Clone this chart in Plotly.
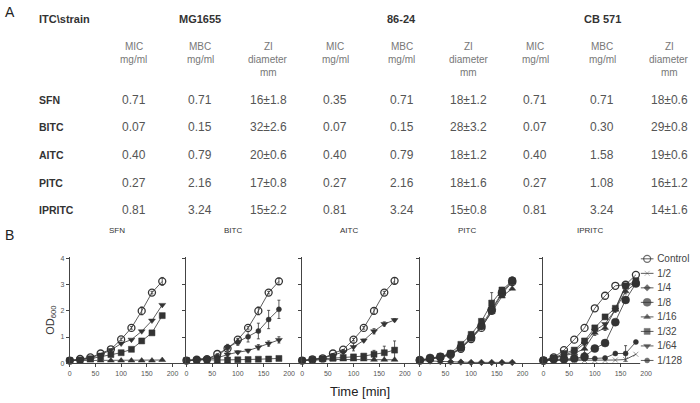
import plotly.graph_objects as go

W, H = 700, 403
FONT = "Liberation Sans, Arial, sans-serif"

# ---- table data (panel A) ----
strains = ["MG1655", "86-24", "CB 571"]
col_header_lines = [["MIC", "mg/ml"], ["MBC", "mg/ml"], ["ZI", "diameter", "mm"]]
compounds = ["SFN", "BITC", "AITC", "PITC", "IPRITC"]
mic_mg1655 = ["0.71", "0.07", "0.40", "0.27", "0.81"]
mbc_mg1655 = ["0.71", "0.15", "0.79", "2.16", "3.24"]
zi_mg1655 = ["16±1.8", "32±2.6", "20±0.6", "17±0.8", "15±2.2"]
mic_8624 = ["0.35", "0.07", "0.40", "0.27", "0.81"]
mbc_8624 = ["0.71", "0.15", "0.79", "2.16", "3.24"]
zi_8624 = ["18±1.2", "28±3.2", "18±1.2", "18±1.6", "15±0.8"]
mic_cb571 = ["0.71", "0.07", "0.40", "0.27", "0.81"]
mbc_cb571 = ["0.71", "0.30", "1.58", "1.08", "3.24"]
zi_cb571 = ["18±0.6", "29±0.8", "19±0.6", "16±1.2", "14±1.6"]

# ---- growth curves (panel B) ----
time_min = [0, 20, 40, 60, 80, 100, 120, 140, 160, 180]
dilutions = ["Control", "1/2", "1/4", "1/8", "1/16", "1/32", "1/64", "1/128"]

sfn_control = [0.10, 0.16, 0.22, 0.37, 0.53, 0.91, 1.35, 2.00, 2.70, 3.13]
sfn_control_err = [0, 0, 0, 0, 0, 0.05, 0.05, 0.15, 0.05, 0.15]
sfn_1_64 = [0.10, 0.14, 0.20, 0.33, 0.50, 0.75, 0.90, 1.22, 1.63, 2.23]
sfn_1_32 = [0.10, 0.12, 0.17, 0.24, 0.33, 0.40, 0.53, 0.85, 1.16, 1.82]
sfn_1_16 = [0.10, 0.10, 0.10, 0.10, 0.10, 0.10, 0.10, 0.10, 0.10, 0.12]

bitc_control = [0.10, 0.13, 0.15, 0.35, 0.56, 0.90, 1.35, 2.00, 2.70, 3.13]
bitc_control_err = [0, 0, 0, 0, 0, 0.05, 0.05, 0.15, 0.05, 0.12]
bitc_1_128 = [0.10, 0.15, 0.18, 0.25, 0.60, 0.80, 1.01, 1.23, 1.67, 2.06]
bitc_1_128_err = [0, 0, 0, 0, 0.12, 0.12, 0.2, 0.3, 0.35, 0.35]
bitc_1_64 = [0.10, 0.12, 0.15, 0.20, 0.33, 0.42, 0.48, 0.61, 0.75, 0.89]
bitc_1_64_err = [0, 0, 0, 0, 0.1, 0.05, 0.05, 0.1, 0.1, 0.12]
bitc_1_32 = [0.10, 0.12, 0.13, 0.12, 0.12, 0.13, 0.14, 0.15, 0.16, 0.18]

aitc_control = [0.10, 0.14, 0.18, 0.37, 0.52, 0.90, 1.35, 2.00, 2.70, 3.15]
aitc_control_err = [0, 0, 0, 0, 0, 0.05, 0.05, 0.12, 0.05, 0.12]
aitc_1_64 = [0.10, 0.14, 0.20, 0.30, 0.43, 0.62, 0.87, 1.22, 1.50, 1.65]
aitc_1_64_err = [0, 0, 0, 0, 0.05, 0.15, 0.05, 0.1, 0.08, 0.05]
aitc_1_32 = [0.10, 0.14, 0.17, 0.19, 0.22, 0.24, 0.27, 0.34, 0.40, 0.50]
aitc_1_32_err = [0, 0, 0, 0, 0, 0, 0.05, 0.15, 0.25, 0.35]
aitc_1_16 = [0.10, 0.12, 0.13, 0.14, 0.14, 0.14, 0.14, 0.13, 0.13, 0.13]

pitc_control = [0.10, 0.17, 0.22, 0.32, 0.55, 0.92, 1.35, 2.00, 2.65, 3.10]
pitc_1_32 = [0.10, 0.18, 0.25, 0.38, 0.72, 1.10, 1.60, 2.30, 2.80, 3.15]
pitc_1_32_err = [0, 0, 0, 0, 0.05, 0.1, 0.1, 0.4, 0.1, 0.15]
pitc_1_8 = [0.12, 0.20, 0.25, 0.35, 0.60, 0.98, 1.42, 2.05, 2.70, 3.15]
pitc_1_16 = [0.10, 0.17, 0.22, 0.32, 0.58, 0.95, 1.38, 1.95, 2.55, 2.85]
pitc_1_4 = [0.10, 0.08, 0.06, 0.05, 0.04, 0.03, 0.03, 0.03, 0.03, 0.03]

ipritc_control = [0.10, 0.22, 0.50, 0.90, 1.35, 2.10, 2.58, 2.96, 3.00, 3.38]
ipritc_1_32 = [0.10, 0.20, 0.37, 0.50, 0.85, 1.35, 1.77, 2.10, 2.96, 3.15]
ipritc_1_16 = [0.10, 0.18, 0.28, 0.38, 0.55, 1.16, 1.35, 2.05, 2.75, 3.05]
ipritc_1_16_err = [0, 0, 0, 0, 0.15, 0.1, 0.1, 0.1, 0.1, 0.1]
ipritc_1_8 = [0.10, 0.15, 0.15, 0.18, 0.25, 0.56, 0.77, 1.57, 2.42, 3.05]
ipritc_1_64 = [0.10, 0.20, 0.30, 0.45, 0.75, 1.25, 1.50, 2.05, 2.95, 3.05]
ipritc_1_128 = [0.10, 0.12, 0.13, 0.15, 0.17, 0.18, 0.20, 0.37, 0.37, 0.81]
ipritc_1_128_err = [0, 0, 0, 0, 0, 0, 0, 0.05, 0.3, 0.05]
ipritc_1_2 = [0.10, 0.10, 0.10, 0.10, 0.10, 0.10, 0.10, 0.12, 0.14, 0.34]

panels = [
    ("SFN", [("Control", sfn_control, sfn_control_err), ("1/64", sfn_1_64, None),
             ("1/32", sfn_1_32, None), ("1/16", sfn_1_16, None)]),
    ("BITC", [("Control", bitc_control, bitc_control_err), ("1/128", bitc_1_128, bitc_1_128_err),
              ("1/64", bitc_1_64, bitc_1_64_err), ("1/32", bitc_1_32, None)]),
    ("AITC", [("Control", aitc_control, aitc_control_err), ("1/64", aitc_1_64, aitc_1_64_err),
              ("1/32", aitc_1_32, aitc_1_32_err), ("1/16", aitc_1_16, None)]),
    ("PITC", [("1/4", pitc_1_4, None), ("1/16", pitc_1_16, None), ("1/8", pitc_1_8, None),
              ("1/32", pitc_1_32, pitc_1_32_err), ("Control", pitc_control, None)]),
    ("IPRITC", [("1/2", ipritc_1_2, None), ("1/128", ipritc_1_128, ipritc_1_128_err),
                ("1/8", ipritc_1_8, None), ("1/16", ipritc_1_16, ipritc_1_16_err),
                ("1/64", ipritc_1_64, None), ("1/32", ipritc_1_32, None),
                ("Control", ipritc_control, None)]),
]

# marker style per dilution
symbols = {"Control": ("circle-open", 7), "1/2": ("x-thin-open", 5), "1/4": ("diamond", 5),
           "1/8": ("circle", 8), "1/16": ("triangle-up", 6), "1/32": ("square", 6),
           "1/64": ("triangle-down", 6), "1/128": ("circle", 5)}

INK = "#333333"


def px(x):
    return x / W


def py(y):
    return 1 - y / H


def marker(label, sizes=None):
    sym, size = symbols[label]
    return dict(symbol=sym, size=size if sizes is None else [0, size, 0], color=INK,
                line=dict(color=INK, width=1.3 if label == "Control" else 0.5))


fig = go.Figure()

# panel geometry (pixel origins of the x axes, 200 min ~ 103 px)
origins = [68, 185, 301, 419, 543]
ends = [185, 301, 419, 543, 652]
unit = 103 / 200
y_bottom, y_top = 365.7, 258

axis_common = dict(showline=True, linecolor="#444", linewidth=1, ticks="outside",
                   ticklen=3, tickcolor="#444", showgrid=False, zeroline=False,
                   tickfont=dict(size=7, color="#555", family=FONT))
layout = {}
for i, (name, series) in enumerate(panels):
    n = "" if i == 0 else str(i + 1)
    for label, vals, err in series:
        fig.add_trace(go.Scatter(
            x=time_min, y=vals, mode="lines+markers", name=label,
            xaxis="x" + n, yaxis="y" + n, cliponaxis=False, showlegend=False,
            line=dict(color=INK, width=0.8),
            marker=marker(label),
            error_y=dict(type="data", array=err, visible=err is not None,
                         color=INK, thickness=0.8, width=1.5),
        ))
    layout["xaxis" + n] = dict(
        domain=[px(origins[i]), px(ends[i])],
        range=[0, (ends[i] - origins[i]) / unit],
        anchor="y" + n, tickvals=[0, 50, 100, 150, 200], **axis_common)
    layout["yaxis" + n] = dict(
        domain=[py(y_bottom), py(y_top)], range=[0, 4.07],
        anchor="x" + n, tickvals=[0, 1, 2, 3, 4], showticklabels=(i == 0), **axis_common)

# key: short line with symbol per dilution, labels on a right-hand category axis
for label in dilutions:
    fig.add_trace(go.Scatter(
        x=[-1, 0, 1], y=[label] * 3, mode="lines+markers", showlegend=False,
        xaxis="x6", yaxis="y6", cliponaxis=False,
        line=dict(color=INK, width=0.8), marker=marker(label, sizes=True),
    ))
layout["xaxis6"] = dict(domain=[px(640), px(654)], range=[-1.1, 1.1], anchor="y6",
                        visible=False)
layout["yaxis6"] = dict(domain=[py(370.3), py(252.7)], anchor="x6", side="right",
                        type="category", categoryorder="array",
                        categoryarray=dilutions[::-1], range=[-0.5, 7.5],
                        showline=False, showgrid=False, zeroline=False, ticks="",
                        ticklabelstandoff=2,
                        tickfont=dict(size=10, color="#444", family=FONT))

ann = []


def text(x, y, s, size, color, bold=False, **kw):
    if bold:
        s = "<b>" + s + "</b>"
    ann.append(dict(x=px(x), y=py(y), xref="paper", yref="paper", text=s,
                    showarrow=False, font=dict(size=size, color=color, family=FONT),
                    xanchor=kw.pop("xanchor", "center"), yanchor=kw.pop("yanchor", "middle"), **kw))


# panel A
text(8, 10, "A", 14, "#222")
text(35, 17, "ITC\\strain", 11, INK, bold=True, xanchor="left")
col_x = [132, 199, 267, 334, 401, 468, 535, 602, 669]
for k, s in enumerate(strains):
    text(col_x[3 * k + 1], 17, s, 11, INK, bold=True)
for c, cx in enumerate(col_x):
    for j, line in enumerate(col_header_lines[c % 3]):
        text(cx, 45 + 13 * j, line, 10, "#777")
row_y = [99, 127, 155, 183, 211]
table_cols = [mic_mg1655, mbc_mg1655, zi_mg1655, mic_8624, mbc_8624, zi_8624,
              mic_cb571, mbc_cb571, zi_cb571]
for r, comp in enumerate(compounds):
    text(35, row_y[r], comp, 10.5, INK, bold=True, xanchor="left")
    for c, col in enumerate(table_cols):
        text(col_x[c], row_y[r], col[r], 12, "#555")

# panel B
text(8, 236, "B", 14, "#222")
for i, (name, _) in enumerate(panels):
    text(origins[i] + 47, 231, name, 8, INK)
text(49, 322, "OD<sub>600</sub>", 11, INK, textangle=-90)
text(359, 394, "Time [min]", 13, "#222")

fig.update_layout(
    width=W, height=H, margin=dict(l=0, r=0, t=0, b=0),
    paper_bgcolor="white", plot_bgcolor="white",
    font=dict(family=FONT, color=INK),
    annotations=ann, showlegend=False,
    **layout,
)

# drop the default 8px page margin so the 700x403 figure fills the window exactly
fig.write_html("out.html", config={"displayModeBar": False},
               post_script="document.body.style.margin = '0';")
